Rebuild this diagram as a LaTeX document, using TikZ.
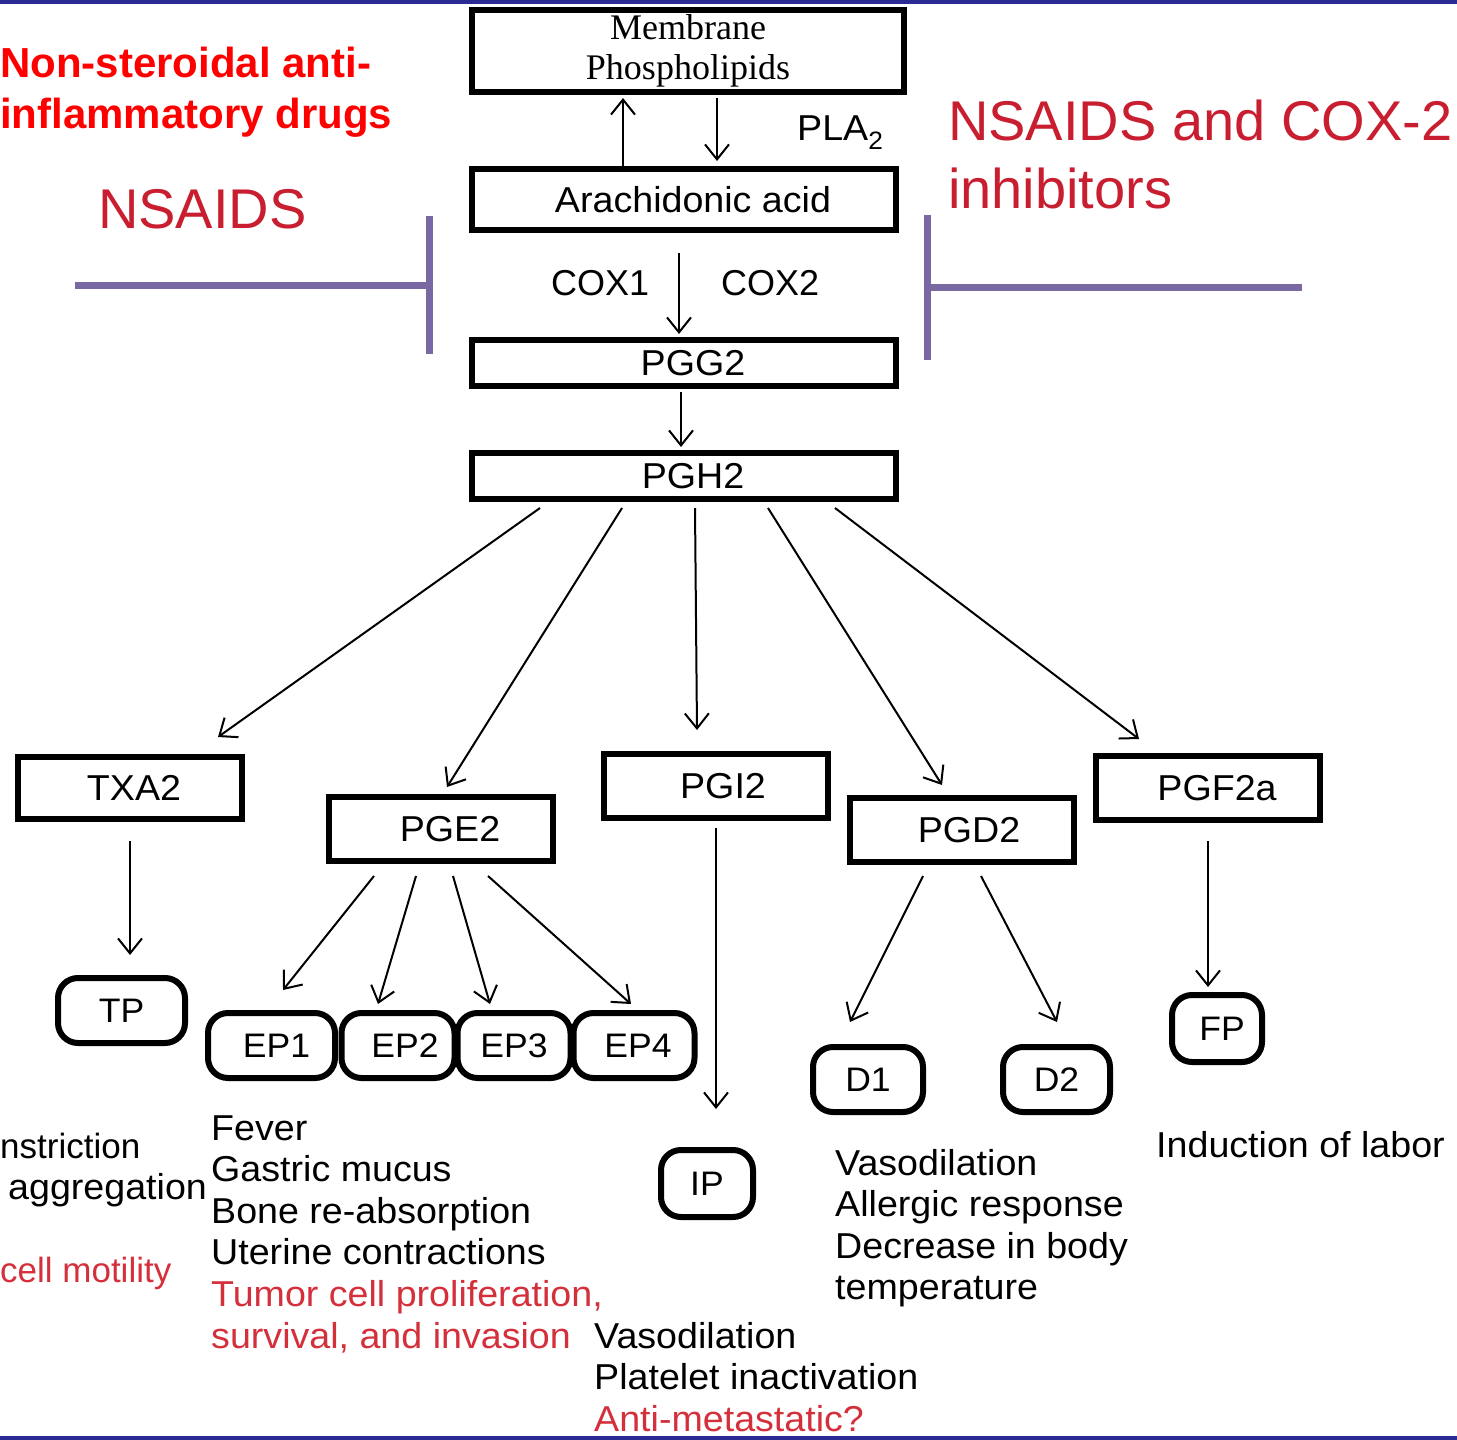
\documentclass[tikz,border=0pt]{standalone}
\usepackage{fontspec}
\setmainfont[FakeStretch=1.045]{Liberation Sans}
\newfontfamily\plainsans{Liberation Sans}
\newfontfamily\seriffont{Liberation Serif}
\usetikzlibrary{arrows.meta,calc}
\definecolor{barnavy}{RGB}{43,43,149}
\definecolor{inhibpurple}{RGB}{122,104,163}
\definecolor{drugred}{RGB}{200,30,48}
\definecolor{effred}{RGB}{212,48,60}
\tikzset{
  box/.style={draw, line width=6pt, minimum width=224pt, minimum height=64pt, inner sep=0pt, font=\fontsize{36}{40}\selectfont},
  recbox/.style={draw, line width=6pt, rounded corners=20pt, minimum height=65pt, inner sep=0pt, font=\fontsize{34}{38}\selectfont},
  flow/.style={line width=2pt, -{Straight Barb[length=15pt,width=24pt]}},
  inhib/.style={line width=7pt, inhibpurple},
  effect/.style={anchor=base west, inner sep=0pt, font=\fontsize{36}{40}\selectfont},
}
\begin{document}
\begin{tikzpicture}[x=1pt, y=-1pt]
    \useasboundingbox (0,0) rectangle (1457,1440);
    \fill[barnavy] (0,0) rectangle (1457,4);
    \fill[barnavy] (0,1436) rectangle (1457,1440);
    % headings
    \node[effect, font=\fontsize{42}{51}\selectfont\plainsans\bfseries, text=red] (title1) at (0,77) {Non-steroidal anti-};
    \node[effect, font=\fontsize{42}{51}\selectfont\plainsans\bfseries, text=red] (title2) at (0,128) {inflammatory drugs};
    \node[effect, font=\fontsize{56}{60}\selectfont\plainsans, text=drugred] (nsaidsl) at (98,228) {NSAIDS};
    \node[effect, font=\fontsize{56}{60}\selectfont\plainsans, text=drugred] (nsaidsr1) at (948,140) {NSAIDS and COX-2};
    \node[effect, font=\fontsize{56}{60}\selectfont\plainsans, text=drugred] (nsaidsr2) at (948,208) {inhibitors};
    % inhibition bars
    \draw[inhib, -{Bar[width=138pt]}] (75,285) -- (433,285);
    \draw[inhib, -{Bar[width=145pt]}] (1302,287) -- (924,287);
    % main pathway
    \node[box, minimum width=432pt, minimum height=82pt, align=center, font=\fontsize{36}{42}\selectfont\seriffont] (mem) at (688,51) {Membrane\\[-2pt]Phospholipids};
    \node[box, minimum width=424pt, minimum height=61pt] (ara) at (684,199.5) {\hspace*{18pt}Arachidonic acid};
    \node[box, minimum width=424pt, minimum height=46pt] (pgg) at (684,363) {\hspace*{18pt}PGG2};
    \node[box, minimum width=424pt, minimum height=46pt] (pgh) at (684,476) {\hspace*{18pt}PGH2};
    \draw[flow] ($(ara.north)+(-61,0)$) -- ($(mem.south)+(-65,3)$);
    \draw[flow] ($(mem.south)+(29,3)$) -- ($(ara.north)+(33,-5)$);
    \node[effect] (pla) at (797,140) {PLA\textsubscript{2}};
    \draw[flow] ($(ara.south)+(-5,20)$) -- ($(pgg.north)+(-5,-3)$);
    \node[effect, font=\fontsize{36}{40}\selectfont\plainsans] (cox1) at (551,295) {COX1};
    \node[effect, font=\fontsize{36}{40}\selectfont\plainsans] (cox2) at (721,295) {COX2};
    \draw[flow] ($(pgg.south)+(-3,3)$) -- ($(pgh.north)+(-3,-3)$);
    % products
    \node[box, minimum height=62pt] (txa) at (130,788) {\hspace*{8pt}TXA2};
    \node[box] (pge) at (441,829) {\hspace*{18pt}PGE2};
    \node[box] (pgi) at (716,786) {\hspace*{14pt}PGI2};
    \node[box] (pgd) at (962,830) {\hspace*{14pt}PGD2};
    \node[box] (pgf) at (1208,788) {\hspace*{18pt}PGF2a};
    \draw[flow] ($(pgh.south)+(-144,6)$) -- ($(txa.north)+(88,-17)$);
    \draw[flow] ($(pgh.south)+(-62,6)$) -- ($(pge.north)+(6,-7)$);
    \draw[flow] ($(pgh.south)+(11,6)$) -- ($(pgi.north)+(-19,-21)$);
    \draw[flow] ($(pgh.south)+(84,6)$) -- ($(pgd.north)+(-20,-10)$);
    \draw[flow] ($(pgh.south)+(151,6)$) -- ($(pgf.north)+(-69,-14)$);
    % receptors
    \node[recbox, minimum width=127pt] (tp) at (121.5,1010.5) {TP};
    \node[recbox, minimum width=127pt] (ep1) at (271.5,1045.5) {\hspace*{10pt}EP1};
    \node[recbox, minimum width=113pt] (ep2) at (398,1045.5) {\hspace*{14pt}EP2};
    \node[recbox, minimum width=113pt] (ep3) at (514,1045.5) {EP3};
    \node[recbox, minimum width=121pt] (ep4) at (634,1045.5) {\hspace*{8pt}EP4};
    \node[recbox, minimum width=92pt, minimum height=67pt] (ip) at (707,1183.5) {IP};
    \node[recbox, minimum width=110pt] (d1) at (868,1079.5) {D1};
    \node[recbox, minimum width=107pt] (d2) at (1056.5,1079.5) {D2};
    \node[recbox, minimum width=90pt, minimum height=67pt] (fp) at (1217,1028.5) {\hspace*{10pt}FP};
    \draw[flow] ($(txa.south)+(0,19)$) -- ($(tp.north)+(8.5,-20)$);
    \draw[flow] ($(pge.south)+(-67,12)$) -- ($(ep1.north)+(11.5,-20)$);
    \draw[flow] ($(pge.south)+(-25,12)$) -- ($(ep2.north)+(-20,-6)$);
    \draw[flow] ($(pge.south)+(12,12)$) -- ($(ep3.north)+(-24,-6)$);
    \draw[flow] ($(pge.south)+(47,12)$) -- ($(ep4.north)+(-3,-6)$);
    \draw[flow] ($(pgi.south)+(0,7)$) -- ($(ip.north)+(9,-38)$);
    \draw[flow] ($(pgd.south)+(-39,11)$) -- ($(d1.north)+(-18,-22)$);
    \draw[flow] ($(pgd.south)+(19,11)$) -- ($(d2.north)+(0.5,-22)$);
    \draw[flow] ($(pgf.south)+(0,18)$) -- ($(fp.north)+(-9,-5)$);
    % effects
    \node[effect, font=\fontsize{35}{40}\selectfont\plainsans] (txaeff1) at (0,1158) {nstriction};
    \node[effect] (txaeff2) at (8,1199) {aggregation};
    \node[effect, font=\fontsize{35}{40}\selectfont\plainsans, text=effred] (txaeff3) at (0,1282) {cell motility};
    \foreach \txt/\col [count=\i from 0] in {Fever/black, Gastric mucus/black, Bone re-absorption/black, Uterine contractions/black, {Tumor cell proliferation,}/effred, {survival, and invasion}/effred}
      \node[effect, text=\col] (pgeeff\i) at (211,{1140+41.6*\i}) {\txt};
    \foreach \txt/\col [count=\i from 0] in {Vasodilation/black, Platelet inactivation/black, Anti-metastatic?/effred}
      \node[effect, text=\col] (pgieff\i) at (594,{1348+41.6*\i}) {\txt};
    \foreach \txt [count=\i from 0] in {Vasodilation, Allergic response, Decrease in body, temperature}
      \node[effect] (pgdeff\i) at (835,{1175+41.6*\i}) {\txt};
    \node[effect] (pgfeff) at (1156,1157) {Induction of labor};
\end{tikzpicture}
\end{document}
